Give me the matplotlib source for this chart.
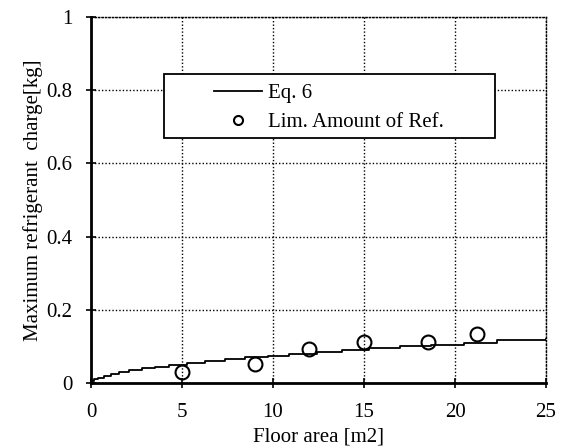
import matplotlib.pyplot as plt
from matplotlib.patches import Rectangle

# Eq. 6 curve (step start x, value)
eq6_area = [0, 0.05, 0.17, 0.4, 0.7, 1.1, 1.55, 2.1, 2.8, 3.5, 4.3, 5.3,
            6.26, 7.36, 8.46, 9.7, 10.9, 12.4, 13.8, 15.3, 17.0, 18.7, 20.5,
            22.3, 25]
eq6_charge = [0, 0.005, 0.01, 0.015, 0.02, 0.025, 0.03, 0.035, 0.04, 0.045,
              0.05, 0.055, 0.06, 0.065, 0.07, 0.075, 0.08, 0.085, 0.09,
              0.095, 0.10, 0.105, 0.11, 0.118, 0.12]

# limit amount of refrigerant (open circles)
lim_area = [5, 9, 12, 15, 18.5, 21.2]
lim_charge = [0.030, 0.052, 0.093, 0.112, 0.112, 0.134]

x_ticks = [0, 5, 10, 15, 20, 25]
y_ticks = [0, 0.2, 0.4, 0.6, 0.8, 1.0]
y_tick_labels = ["0", "0.2", "0.4", "0.6", "0.8", "1"]

plt.rcParams["font.family"] = ["Liberation Serif", "DejaVu Serif"]

fig = plt.figure(figsize=(5.7, 4.48), dpi=100)
ax = fig.add_axes([0.1596, 0.145, 0.7984, 0.817])

ax.plot(eq6_area, eq6_charge, color="black", linewidth=1.3,
        drawstyle="steps-post", label="Eq. 6", zorder=3)
ax.plot(lim_area, lim_charge, linestyle="none", marker="o", markersize=10,
        markerfacecolor="none", markeredgecolor="black", markeredgewidth=1.5,
        label="Lim. Amount of Ref.", zorder=4)

ax.set_xlim(0, 25)
ax.set_ylim(0, 1)
ax.set_xticks(x_ticks)
ax.set_yticks(y_ticks)
ax.set_yticklabels(y_tick_labels)
ax.tick_params(axis="both", direction="inout", length=7, width=1.2,
               labelsize=15, colors="black")
ax.tick_params(axis="x", pad=11)
ax.tick_params(axis="y", pad=10)

ax.grid(True, color="black", linestyle=(0, (1, 1.5)), linewidth=1.0)
ax.set_axisbelow(True)

for side in ["left", "bottom"]:
    ax.spines[side].set_linewidth(2)
for side in ["top", "right"]:
    ax.spines[side].set_linewidth(1.0)
    ax.spines[side].set_linestyle((0, (1, 1.5)))

ax.set_xlabel("Floor area [m2]", fontsize=15, labelpad=4)
ax.set_ylabel("Maximum refrigerant  charge[kg]", fontsize=15, labelpad=2)

# legend box drawn as a plain rectangle, entries placed inside it
box = Rectangle((0.16, 0.669), 0.728, 0.175, transform=ax.transAxes,
                facecolor="white", edgecolor="black", linewidth=1.3, zorder=5)
ax.add_patch(box)
leg = ax.legend(loc="upper left", bbox_to_anchor=(0.27, 0.818),
                frameon=False, fontsize=15, handlelength=2.3,
                handletextpad=0.3, labelspacing=0.45, borderpad=0,
                borderaxespad=0, markerscale=0.65)
leg.set_zorder(6)

fig.savefig("out.png", dpi=100)
